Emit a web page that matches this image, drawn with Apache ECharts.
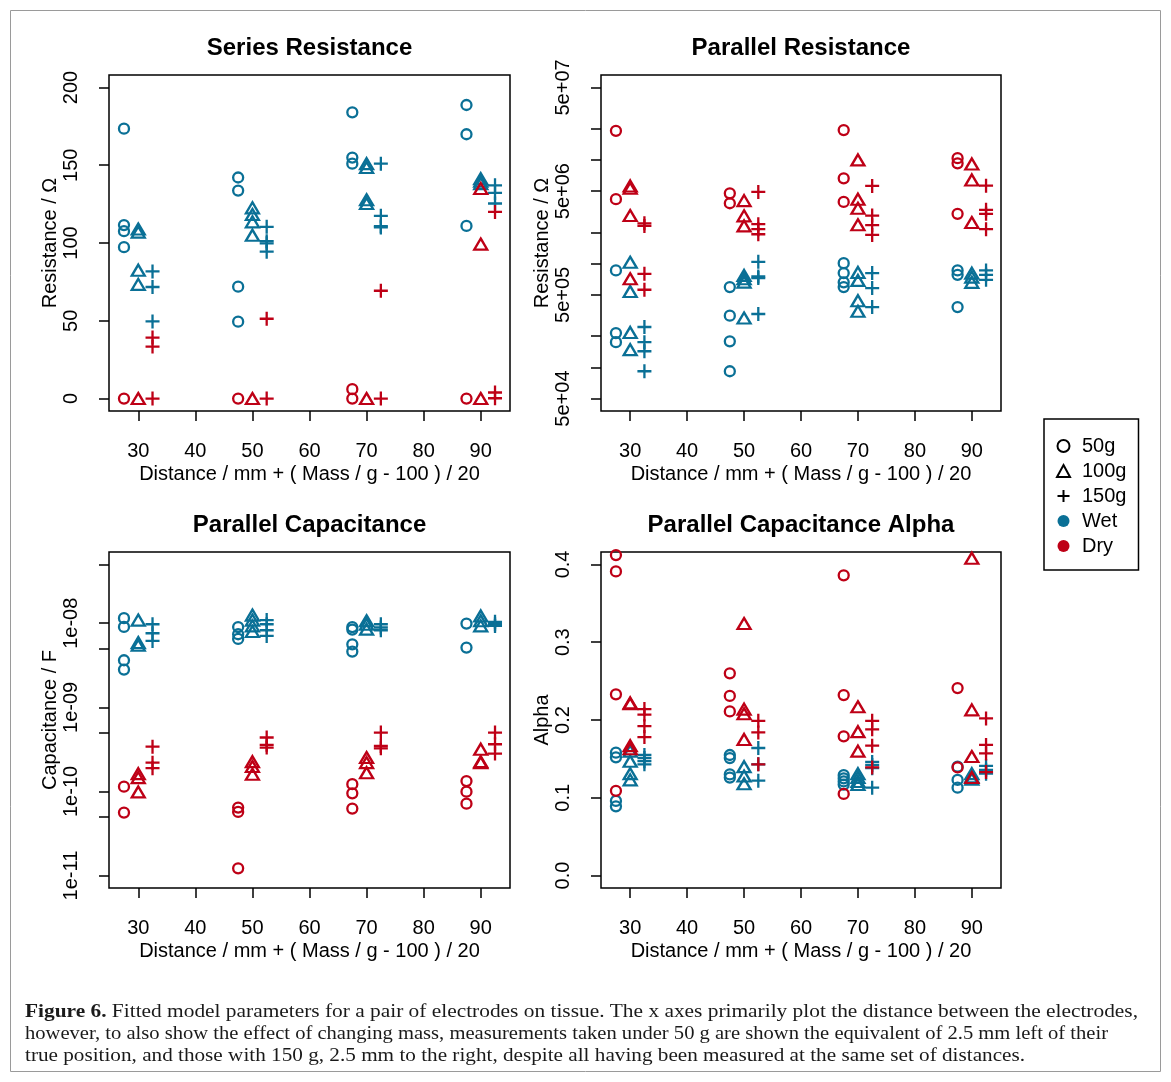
<!DOCTYPE html>
<html><head><meta charset="utf-8">
<script src="https://cdn.jsdelivr.net/npm/echarts@6/dist/echarts.min.js"></script>
<style>html,body{margin:0;padding:0;background:#fff}#c{width:1171px;height:1082px}</style>
</head><body><div id="c"></div>
<script>
// ---------- data ----------
const distances = [30, 50, 70, 90];
const masses = [50, 100, 150];
const xTicks = [30, 40, 50, 60, 70, 80, 90];
const srTicks = [0, 50, 100, 150, 200];
const prTicks = [5e4, 1e5, 2e5, 5e5, 1e6, 2e6, 5e6, 1e7, 2e7, 5e7];
const prLabels = [5e4, 5e5, 5e6, 5e7];
const pcTicks = [1e-11, 5e-11, 1e-10, 5e-10, 1e-9, 5e-9, 1e-8, 5e-8];
const pcLabels = [1e-11, 1e-10, 1e-9, 1e-8];
const paTicks = [0, 0.1, 0.2, 0.3, 0.4];

// Series resistance (Ohm), one inner list per distance
const srWet50  = [[173.5, 111.5, 107.6, 97.3], [142.1, 133.7, 71.9, 49.4], [184, 154.9, 151], [188.7, 169.9, 111]];
const srDry50  = [[0], [0], [6, 0], [0]];
const srWet100 = [[109, 107, 82.5, 73.4], [122.6, 118.3, 113.6, 105], [151, 148.5, 127.8, 125.4], [141.4, 139.7, 138.2]];
const srDry100 = [[0], [0], [0], [135, 99.3, 0]];
const srWet150 = [[81.7, 71.7, 49.6], [110.4, 101.2, 99.8, 94.4], [151, 117.5, 110.8, 110], [137.1, 132.2, 125.4]];
const srDry150 = [[39.2, 33.4, 0], [51.3, 0], [69.3, 0], [120, 3.9, 0.2]];

// Parallel resistance (Ohm)
const prWet50  = [[8.6e5, 2.14e5, 1.75e5], [5.94e5, 3.15e5, 1.78e5, 9.17e4], [1.01e6, 8.1e5, 6.6e5, 5.94e5], [8.6e5, 7.8e5, 3.81e5]];
const prDry50  = [[1.91e7, 4.18e6], [4.76e6, 3.82e6], [1.94e7, 6.65e6, 3.94e6], [1.04e7, 9.27e6, 3.02e6]];
const prWet100 = [[1.03e6, 5.39e5, 2.17e5, 1.48e5], [7.7e5, 7.15e5, 6.64e5, 2.99e5], [8.22e5, 6.89e5, 4.39e5, 3.47e5], [8.1e5, 7.41e5, 6.6e5]];
const prDry100 = [[5.61e6, 5.33e6, 2.91e6, 7.15e5], [4.05e6, 2.89e6, 2.31e6], [1.0e7, 4.18e6, 3.42e6, 2.37e6], [9.14e6, 6.41e6, 2.49e6]];
const prWet150 = [[2.45e5, 1.75e5, 1.43e5, 9.17e4], [1.04e6, 7.52e5, 7.25e5, 3.27e5], [8.1e5, 5.81e5, 3.81e5], [8.6e5, 7.8e5, 6.98e5]];
const prDry150 = [[2.45e6, 2.31e6, 7.98e5, 5.6e5], [4.91e6, 2.4e6, 2.15e6, 1.92e6], [5.61e6, 2.91e6, 2.35e6, 1.89e6], [5.65e6, 3.3e6, 3.02e6, 2.15e6]];

// Parallel capacitance (F)
const pcWet50  = [[1.15e-8, 9.04e-9, 3.63e-9, 2.81e-9], [9.0e-9, 7.4e-9, 6.5e-9], [9.0e-9, 8.4e-9, 5.62e-9, 4.6e-9], [9.91e-9, 5.14e-9]];
const pcDry50  = [[1.14e-10, 5.61e-11], [6.43e-11, 5.71e-11, 1.22e-11], [1.22e-10, 9.5e-11, 6.25e-11], [1.33e-10, 9.95e-11, 7.16e-11]];
const pcWet100 = [[1.09e-8, 5.89e-9, 5.47e-9], [1.25e-8, 1.09e-8, 9.3e-9, 7.96e-9], [1.07e-8, 9.73e-9, 8.5e-9], [1.22e-8, 1.07e-8, 9.3e-9]];
const pcDry100 = [[1.63e-10, 1.46e-10, 9.87e-11], [2.26e-10, 1.98e-10, 1.6e-10], [2.53e-10, 2.2e-10, 1.67e-10], [3.18e-10, 2.26e-10, 2.2e-10]];
const pcWet150 = [[9.73e-9, 7.6e-9, 6.16e-9], [1.09e-8, 9.73e-9, 8.25e-9, 7.07e-9], [9.73e-9, 8.9e-9, 8.25e-9], [1.04e-8, 9.73e-9, 9.3e-9]];
const pcDry150 = [[3.41e-10, 2.2e-10, 1.89e-10], [4.38e-10, 3.58e-10, 3.32e-10], [5.01e-10, 3.47e-10, 3.26e-10], [5.01e-10, 3.64e-10, 2.82e-10]];

// Parallel capacitance alpha
const paWet50  = [[0.158, 0.152, 0.096, 0.089], [0.155, 0.151, 0.130, 0.126], [0.129, 0.125, 0.121, 0.117], [0.140, 0.123, 0.113]];
const paDry50  = [[0.412, 0.391, 0.233, 0.109], [0.260, 0.231, 0.211], [0.386, 0.232, 0.179, 0.105], [0.241, 0.139]];
const paWet100 = [[0.160, 0.147, 0.131, 0.123], [0.140, 0.128, 0.118], [0.131, 0.126, 0.121, 0.117], [0.131, 0.127, 0.124]];
const paDry100 = [[0.222, 0.221, 0.167, 0.163], [0.324, 0.214, 0.208, 0.175], [0.217, 0.185, 0.160], [0.408, 0.213, 0.153, 0.126]];
const paWet150 = [[0.155, 0.151, 0.147, 0.143], [0.164, 0.143, 0.122], [0.146, 0.142, 0.138, 0.113], [0.141, 0.136, 0.131]];
const paDry150 = [[0.214, 0.207, 0.192, 0.178], [0.199, 0.184, 0.143], [0.199, 0.188, 0.167, 0.139], [0.202, 0.168, 0.157, 0.133]];

const captionLines = [
  'Fitted model parameters for a pair of electrodes on tissue. The x axes primarily plot the distance between the electrodes,',
  'however, to also show the effect of changing mass, measurements taken under 50 g are shown the equivalent of 2.5 mm left of their',
  'true position, and those with 150 g, 2.5 mm to the right, despite all having been measured at the same set of distances.'
];

// ---------- styling ----------
const FONT = '"Liberation Sans", Arial, Helvetica, sans-serif';
const SERIF = '"Liberation Serif", "Times New Roman", serif';
const WET = '#0a7096';
const DRY = '#be0016';
const PLUS = 'path://M0,7L14,7M7,0L7,14';
const SYM = {
  50: { symbol: 'circle', size: 10 },
  100: { symbol: 'triangle', size: [13, 11] },
  150: { symbol: PLUS, size: 14 }
};
const expFmt = v => {
  const [m, e] = v.toExponential(0).split('e');
  return m + 'e' + e[0] + e.slice(1).padStart(2, '0');
};

const panels = [
  { title: 'Series Resistance', yName: 'Resistance / \u03A9', type: 'value', min: -8, max: 208,
    ticks: srTicks, labels: srTicks, fmt: v => String(v),
    wet: [srWet50, srWet100, srWet150], dry: [srDry50, srDry100, srDry150], left: 109, top: 75, width: 401 },
  { title: 'Parallel Resistance', yName: 'Resistance / \u03A9', type: 'log',
    min: Math.pow(10, 4.57897), max: Math.pow(10, 7.81897),
    ticks: prTicks, labels: prLabels, fmt: expFmt,
    wet: [prWet50, prWet100, prWet150], dry: [prDry50, prDry100, prDry150], left: 601, top: 75, width: 400 },
  { title: 'Parallel Capacitance', yName: 'Capacitance / F', type: 'log',
    min: Math.pow(10, -11.147959), max: Math.pow(10, -7.153071),
    ticks: pcTicks, labels: pcLabels, fmt: expFmt,
    wet: [pcWet50, pcWet100, pcWet150], dry: [pcDry50, pcDry100, pcDry150], left: 109, top: 552, width: 401 },
  { title: 'Parallel Capacitance Alpha', yName: 'Alpha', type: 'value', min: -0.016, max: 0.416,
    ticks: paTicks, labels: paTicks, fmt: v => v.toFixed(1),
    wet: [paWet50, paWet100, paWet150], dry: [paDry50, paDry100, paDry150], left: 601, top: 552, width: 400 }
];
const H = 336;

const grids = [], xAxes = [], yAxes = [], titles = [], series = [];
panels.forEach((p, k) => {
  grids.push({ left: p.left, top: p.top, width: p.width, height: H, show: true,
    borderColor: '#000', borderWidth: 1.5, backgroundColor: 'transparent', outerBoundsMode: 'none' });
  xAxes.push({
    type: 'value', gridIndex: k, min: 24.875, max: 95.125,
    axisLine: { show: false, onZero: false },
    splitLine: { show: false },
    axisTick: { show: true, length: 10, lineStyle: { color: '#000', width: 1.5 }, customValues: xTicks },
    axisLabel: { customValues: xTicks, margin: 30, fontSize: 20, color: '#000', fontFamily: FONT },
    name: 'Distance / mm + ( Mass / g - 100 ) / 20', nameLocation: 'middle', nameGap: 53,
    nameTextStyle: { fontSize: 20, color: '#000', fontFamily: FONT }
  });
  const ya = {
    type: p.type, gridIndex: k, min: p.min, max: p.max,
    axisLine: { show: false, onZero: false },
    splitLine: { show: false },
    axisTick: { show: true, length: 10, lineStyle: { color: '#000', width: 1.5 }, customValues: p.ticks },
    axisLabel: { customValues: p.labels, formatter: p.fmt, rotate: 90, margin: 28,
      fontSize: 20, color: '#000', fontFamily: FONT },
    name: p.yName, nameLocation: 'middle', nameGap: 48,
    nameTextStyle: { fontSize: 20, color: '#000', fontFamily: FONT }
  };
  if (p.type === 'log') ya.logBase = 10;
  yAxes.push(ya);
  titles.push({ text: p.title, left: p.left + p.width / 2, top: p.top - 39, textAlign: 'center', padding: 0,
    textStyle: { fontSize: 24, fontWeight: 'bold', color: '#000', fontFamily: FONT } });

  [['Wet', p.wet, WET], ['Dry', p.dry, DRY]].forEach(([cond, groups, col]) => {
    groups.forEach((byDist, mi) => {
      const data = [];
      byDist.forEach((vals, i) => vals.forEach(v => data.push([distances[i] + (masses[mi] - 100) / 20, v])));
      const s = SYM[masses[mi]];
      series.push({
        type: 'scatter', name: p.title + ' ' + cond + ' ' + masses[mi] + 'g',
        xAxisIndex: k, yAxisIndex: k, data,
        symbol: s.symbol, symbolSize: s.size,
        itemStyle: { color: 'rgba(0,0,0,0)', borderColor: col, borderWidth: 2.3, opacity: 1 },
        emphasis: { disabled: true }, silent: true, animation: false, z: cond === 'Dry' ? 3 : 2
      });
    });
  });
});

// legend-only series
['50g', '100g', '150g', 'Wet', 'Dry'].forEach(n => series.push({ type: 'scatter', name: n, data: [], xAxisIndex: 0, yAxisIndex: 0 }));

const hollow = { color: 'rgba(0,0,0,0)', borderColor: '#000', borderWidth: 2, opacity: 1 };
const legend = {
  orient: 'vertical', left: 1044, top: 419, padding: [17, 12, 14, 12], itemGap: 5,
  itemWidth: 13, itemHeight: 12,
  borderColor: '#000', borderWidth: 1.5, selectedMode: false,
  textStyle: { fontSize: 20, color: '#000', fontFamily: FONT, padding: [0, 0, 0, 7] },
  data: [
    { name: '50g', icon: 'circle', itemStyle: hollow },
    { name: '100g', icon: 'triangle', itemStyle: hollow },
    { name: '150g', icon: PLUS, itemStyle: hollow },
    { name: 'Wet', icon: 'circle', itemStyle: { color: WET, borderColor: WET, borderWidth: 0, opacity: 1 } },
    { name: 'Dry', icon: 'circle', itemStyle: { color: DRY, borderColor: DRY, borderWidth: 0, opacity: 1 } }
  ]
};

// caption: condensed serif, each line fitted to the reference line width
const ctx = document.createElement('canvas').getContext('2d');
const CAP_FS = 19;
const capTargets = [1113, 1083, 1000];
const capY = [1012, 1034, 1056];
const graphic = [
  { type: 'rect', silent: true, shape: { x: 10.5, y: 10.5, width: 1150, height: 1061 },
    style: { fill: 'none', stroke: '#9a9a9a', lineWidth: 1 } }
];
captionLines.forEach((t, i) => {
  ctx.font = CAP_FS + 'px ' + SERIF;
  let w = ctx.measureText(i === 0 ? ' ' + t : t).width;
  if (i === 0) { ctx.font = 'bold ' + CAP_FS + 'px ' + SERIF; w += ctx.measureText('Figure 6.').width; }
  graphic.push({
    type: 'text', silent: true, x: 25, y: capY[i], scaleX: capTargets[i] / w,
    style: {
      text: i === 0 ? '{b|Figure 6.} ' + t : t,
      fontSize: CAP_FS, fontFamily: SERIF, fill: '#1a1a1a', verticalAlign: 'middle',
      rich: { b: { fontWeight: 'bold', fontSize: CAP_FS, fontFamily: SERIF, fill: '#1a1a1a' } }
    }
  });
});

const chart = echarts.init(document.getElementById('c'), null, { renderer: 'canvas' });
chart.setOption({
  animation: false, backgroundColor: '#fff',
  title: titles, grid: grids, xAxis: xAxes, yAxis: yAxes, legend, series, graphic
});
</script></body></html>
